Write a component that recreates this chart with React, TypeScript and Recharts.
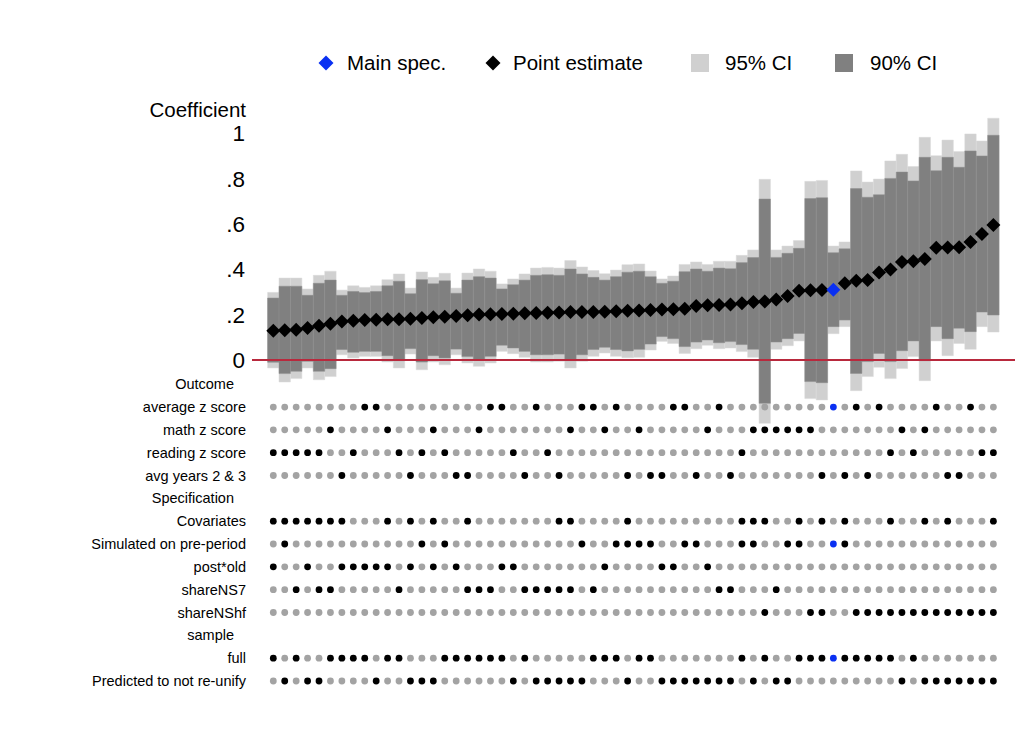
import React from "react";
import { ComposedChart, Bar, Scatter, XAxis, YAxis, ReferenceLine, Legend } from "recharts";

const FONT = "'Liberation Sans', Arial, Helvetica, sans-serif";

// point estimate of each specification, sorted
const estimates = [
  0.129, 0.131, 0.133, 0.141, 0.151, 0.16, 0.17, 0.173, 0.176, 0.177, 0.179, 0.18, 0.182, 0.185, 0.188, 0.191,
  0.194, 0.197, 0.2, 0.201, 0.203, 0.204, 0.206, 0.207, 0.208, 0.209, 0.211, 0.212, 0.212, 0.213, 0.215, 0.217,
  0.218, 0.22, 0.222, 0.224, 0.226, 0.238, 0.241, 0.242, 0.244, 0.25, 0.256, 0.258, 0.267, 0.282, 0.305, 0.307,
  0.308, 0.309, 0.338, 0.349, 0.352, 0.385, 0.399, 0.432, 0.435, 0.445, 0.495, 0.496, 0.497, 0.52, 0.555, 0.595,
];
const ci95Low = [
  -0.035, -0.097, -0.082, -0.035, -0.087, -0.073, 0.023, 0.009, 0.016, 0.016, -0.009, -0.035, 0.026, -0.043, -0.009, -0.021,
  0.023, -0.013, -0.028, -0.013, 0.038, 0.028, 0.012, -0.009, -0.009, -0.006, -0.035, -0.006, 0.016, 0.031, 0.016, 0.01,
  0.012, 0.044, 0.082, 0.073, 0.029, 0.05, 0.065, 0.05, 0.053, 0.037, 0.012, -0.279, 0.047, 0.063, 0.084, -0.17,
  -0.176, 0.116, 0.147, -0.135, -0.073, -0.032, -0.082, -0.037, 0.015, -0.091, 0.084, 0.019, 0.073, 0.047, 0.147, 0.123,
];
const ci90Low = [
  -0.01, -0.06, -0.05, -0.006, -0.05, -0.038, 0.046, 0.034, 0.038, 0.038, 0.019, -0.003, 0.05, -0.009, 0.019, 0.009,
  0.048, 0.015, 0.001, 0.016, 0.065, 0.053, 0.038, 0.023, 0.023, 0.026, -0.003, 0.023, 0.046, 0.056, 0.046, 0.04,
  0.047, 0.07, 0.103, 0.094, 0.059, 0.079, 0.088, 0.076, 0.081, 0.068, 0.047, -0.191, 0.079, 0.094, 0.117, -0.095,
  -0.1, 0.147, 0.176, -0.059, -0.007, 0.029, -0.007, 0.041, 0.084, -0.003, 0.147, 0.094, 0.14, 0.125, 0.211, 0.198,
];
const ci90High = [
  0.273, 0.325, 0.325, 0.285, 0.338, 0.352, 0.285, 0.302, 0.297, 0.302, 0.327, 0.347, 0.292, 0.354, 0.336, 0.349,
  0.294, 0.352, 0.367, 0.361, 0.313, 0.332, 0.352, 0.373, 0.376, 0.373, 0.401, 0.379, 0.364, 0.352, 0.367, 0.387,
  0.391, 0.367, 0.338, 0.347, 0.389, 0.401, 0.391, 0.405, 0.402, 0.429, 0.451, 0.709, 0.452, 0.47, 0.492, 0.711,
  0.715, 0.473, 0.49, 0.755, 0.717, 0.728, 0.8, 0.828, 0.789, 0.893, 0.834, 0.893, 0.849, 0.921, 0.899, 0.99,
];
const ci95High = [
  0.298, 0.361, 0.361, 0.313, 0.373, 0.391, 0.308, 0.327, 0.32, 0.327, 0.354, 0.379, 0.317, 0.388, 0.364, 0.382,
  0.317, 0.383, 0.401, 0.391, 0.335, 0.357, 0.379, 0.405, 0.408, 0.405, 0.438, 0.41, 0.394, 0.38, 0.396, 0.42,
  0.423, 0.392, 0.357, 0.37, 0.421, 0.432, 0.421, 0.435, 0.435, 0.461, 0.485, 0.796, 0.485, 0.502, 0.526, 0.787,
  0.791, 0.502, 0.52, 0.833, 0.784, 0.797, 0.877, 0.906, 0.852, 0.981, 0.9, 0.969, 0.918, 0.996, 0.965, 1.065,
];

// 0 = average z score, 1 = math z score, 2 = reading z score, 3 = avg years 2 & 3
const outcome = [
  2, 2, 2, 2, 2, 1, 3, 2, 0, 0, 1, 2, 3, 2, 1, 2, 3, 3, 1, 0, 0, 2, 3, 0, 2, 3, 1, 0, 0, 1, 0, 3,
  1, 3, 3, 0, 0, 3, 1, 0, 3, 2, 1, 1, 1, 1, 1, 1, 3, 0, 3, 0, 3, 0, 2, 1, 2, 1, 0, 3, 3, 0, 2, 2,
];
const covariates = [
  1, 1, 1, 1, 1, 1, 1, 0, 0, 0, 1, 0, 1, 0, 1, 0, 0, 1, 0, 0, 0, 0, 0, 0, 0, 1, 1, 0, 0, 0, 0, 1,
  0, 0, 0, 0, 0, 0, 0, 0, 0, 1, 1, 1, 0, 0, 1, 0, 1, 0, 1, 0, 0, 0, 1, 0, 0, 1, 0, 1, 0, 0, 0, 1,
];
const simulatedPre = [
  0, 1, 0, 0, 0, 0, 0, 0, 0, 0, 0, 0, 0, 1, 0, 1, 0, 0, 0, 0, 0, 0, 0, 0, 0, 0, 0, 1, 0, 0, 1, 1,
  1, 1, 0, 0, 1, 1, 0, 0, 0, 1, 1, 0, 0, 1, 1, 0, 0, 1, 1, 0, 0, 0, 0, 0, 0, 0, 0, 0, 0, 0, 0, 0,
];
const postOld = [
  1, 0, 0, 1, 0, 0, 1, 1, 1, 1, 1, 0, 1, 0, 1, 0, 1, 0, 0, 0, 1, 1, 0, 0, 0, 0, 0, 0, 0, 1, 0, 0,
  0, 0, 1, 1, 0, 0, 1, 0, 0, 0, 0, 0, 0, 0, 0, 0, 0, 0, 0, 0, 0, 0, 0, 0, 0, 0, 0, 0, 0, 0, 0, 0,
];
const shareNS7 = [
  0, 0, 1, 0, 1, 1, 0, 0, 0, 0, 0, 1, 0, 0, 0, 0, 0, 1, 1, 1, 0, 0, 1, 1, 1, 1, 1, 0, 1, 0, 0, 0,
  0, 0, 0, 0, 0, 0, 0, 1, 1, 0, 0, 0, 1, 0, 0, 0, 0, 0, 0, 0, 0, 0, 0, 0, 0, 0, 0, 0, 0, 0, 0, 0,
];
const shareNShf = [
  0, 0, 0, 0, 0, 0, 0, 0, 0, 0, 0, 0, 0, 0, 0, 0, 0, 0, 0, 0, 0, 0, 0, 0, 0, 0, 0, 0, 0, 0, 0, 0,
  0, 0, 0, 0, 0, 0, 0, 0, 0, 0, 0, 1, 0, 0, 0, 1, 1, 0, 0, 1, 1, 1, 1, 1, 1, 1, 1, 1, 1, 1, 1, 1,
];
const fullSample = [
  1, 0, 1, 0, 0, 1, 1, 1, 1, 0, 1, 1, 0, 0, 0, 1, 1, 1, 1, 1, 1, 0, 1, 0, 0, 0, 0, 0, 1, 1, 1, 0,
  1, 1, 0, 0, 0, 0, 0, 0, 0, 1, 0, 1, 0, 0, 1, 1, 1, 1, 1, 1, 1, 1, 1, 0, 1, 0, 0, 0, 0, 0, 0, 0,
];
const mainSpec = 49;

const coefTicks = [0, 0.2, 0.4, 0.6, 0.8, 1];
const rowLabels = [
  "Outcome",
  "average z score",
  "math z score",
  "reading z score",
  "avg years 2 & 3",
  "Specification",
  "Covariates",
  "Simulated on pre-period",
  "post*old",
  "shareNS7",
  "shareNShf",
  "sample",
  "full",
  "Predicted to not re-unify",
];
const headerRows = [0, 5, 11];

const rowFlags: (number[] | null)[] = [
  null,
  outcome.map((o) => (o === 0 ? 1 : 0)),
  outcome.map((o) => (o === 1 ? 1 : 0)),
  outcome.map((o) => (o === 2 ? 1 : 0)),
  outcome.map((o) => (o === 3 ? 1 : 0)),
  null,
  covariates,
  simulatedPre,
  postOld,
  shareNS7,
  shareNShf,
  null,
  fullSample,
  fullSample.map((f) => 1 - f),
];

const data = estimates.map((est, i) => ({
  x: i,
  est,
  main: i === mainSpec,
  ci95: [ci95Low[i], ci95High[i]],
  ci90: [ci90Low[i], ci90High[i]],
}));

const grayDots: { x: number; y: number }[] = [];
const blackDots: { x: number; y: number }[] = [];
const blueDots: { x: number; y: number }[] = [];
rowFlags.forEach((flags, k) => {
  if (!flags) return;
  flags.forEach((f, i) => {
    const p = { x: i, y: -k };
    if (!f) grayDots.push(p);
    else if (i === mainSpec) blueDots.push(p);
    else blackDots.push(p);
  });
});

const BLUE = "#0a30f2";
const LIGHT = "#d0d0d0";
const DARK = "#808080";

// plot frame in pixels
const W = 1034;
const H = 755;
const TOP = 110;
const BOTTOM = 700;
const LEFT = 252;
const RIGHT = 1015;
const PX_PER_UNIT = 227; // coefficient axis
const ROW_STEP = 22.83;
const ROW0_Y = 384.2;
const ZERO_Y = 360;
const BAND = 11.43;
const FIRST_X = 273.3;

const coefMax = (ZERO_Y - TOP) / PX_PER_UNIT;
const coefMin = coefMax - (BOTTOM - TOP) / PX_PER_UNIT;
const rowMax = (ROW0_Y - TOP) / ROW_STEP;
const rowMin = rowMax - (BOTTOM - TOP) / ROW_STEP;
const xMin = -(FIRST_X - LEFT) / BAND;
const xMax = xMin + (RIGHT - LEFT) / BAND;
const xTicks = data.map((d) => d.x);

const fmtCoef = (v: number) => (v === 0 ? "0" : v === 1 ? "1" : String(v).replace("0.", "."));

const diamond = (cx: number, cy: number, r: number, fill: string) => (
  <polygon points={`${cx},${cy - r} ${cx + r},${cy} ${cx},${cy + r} ${cx - r},${cy}`} fill={fill} />
);

const EstShape = (props: any) => {
  const { cx, cy, payload } = props;
  return diamond(cx, cy, 7, payload.main ? BLUE : "#000");
};

const dotShape = (fill: string) => (props: any) => <circle cx={props.cx} cy={props.cy} r={3.4} fill={fill} />;

const RowTick = (props: any) => {
  const { y, payload } = props;
  const k = Math.round(-payload.value);
  const isHeader = headerRows.includes(k);
  return (
    <text
      x={isHeader ? LEFT - 18 : LEFT - 6}
      y={y}
      dy="0.35em"
      textAnchor="end"
      fontSize={14.5}
      fontFamily={FONT}
      fill="#000"
    >
      {rowLabels[k]}
    </text>
  );
};

const CoefTick = (props: any) => {
  const { y, payload } = props;
  return (
    <text x={LEFT - 7} y={y} dy="0.36em" textAnchor="end" fontSize={22.5} fontFamily={FONT} fill="#000">
      {fmtCoef(payload.value)}
    </text>
  );
};

const LegendBox = () => (
  <svg width={W} height={30} style={{ display: "block" }}>
    <g fontFamily={FONT} fontSize={20.5} fill="#000">
      {diamond(326, 15, 7.5, BLUE)}
      <text x={347} y={22}>Main spec.</text>
      {diamond(493, 15, 7.5, "#000")}
      <text x={513} y={22}>Point estimate</text>
      <rect x={691} y={6} width={18} height={18} fill={LIGHT} />
      <text x={725} y={22}>95% CI</text>
      <rect x={835} y={6} width={18} height={18} fill={DARK} />
      <text x={870} y={22}>90% CI</text>
    </g>
  </svg>
);

export default function App() {
  return (
    <div style={{ position: "absolute", left: 0, top: 0, width: W, height: H, background: "#fff" }}>
      <ComposedChart
        width={W}
        height={H}
        data={data}
        margin={{ top: TOP, bottom: H - BOTTOM, left: LEFT - 2, right: W - RIGHT }}
      >
        <XAxis xAxisId="a" dataKey="x" type="number" domain={[xMin, xMax]} ticks={xTicks} allowDataOverflow hide />
        <XAxis xAxisId="b" dataKey="x" type="number" domain={[xMin, xMax]} ticks={xTicks} allowDataOverflow hide />
        <YAxis
          yAxisId="coef"
          type="number"
          domain={[coefMin, coefMax]}
          allowDataOverflow
          ticks={coefTicks}
          interval={0}
          width={1}
          tickSize={0}
          axisLine={false}
          tickLine={false}
          tick={CoefTick}
          label={() => (
            <text x={LEFT - 6} y={TOP + 7} textAnchor="end" fontSize={20.5} fontFamily={FONT} fill="#000">
              Coefficient
            </text>
          )}
        />
        <YAxis
          yAxisId="rows"
          type="number"
          domain={[rowMin, rowMax]}
          allowDataOverflow
          ticks={rowLabels.map((_, k) => -k)}
          interval={0}
          width={1}
          tickSize={0}
          axisLine={false}
          tickLine={false}
          tick={RowTick}
        />
        <Legend
          layout="horizontal"
          verticalAlign="middle"
          align="center"
          wrapperStyle={{ top: 48, left: 0, width: W, height: 30 }}
          content={() => <LegendBox />}
        />
        <ReferenceLine xAxisId="a" yAxisId="coef" y={0} stroke="#b8293d" strokeWidth={2} />
        <Bar
          xAxisId="b"
          yAxisId="coef"
          dataKey="ci95"
          fill={LIGHT}
          stroke="#dadada"
          strokeWidth={0.5}
          barSize={11.4}
          isAnimationActive={false}
        />
        <Bar
          xAxisId="a"
          yAxisId="coef"
          dataKey="ci90"
          fill={DARK}
          stroke="#8e8e8e"
          strokeWidth={0.5}
          barSize={11.4}
          isAnimationActive={false}
        />
        <Scatter xAxisId="a" yAxisId="coef" dataKey="est" shape={EstShape} isAnimationActive={false} />
        <Scatter xAxisId="a" yAxisId="rows" data={grayDots} dataKey="y" shape={dotShape("#a3a3a3")} isAnimationActive={false} />
        <Scatter xAxisId="a" yAxisId="rows" data={blackDots} dataKey="y" shape={dotShape("#000")} isAnimationActive={false} />
        <Scatter xAxisId="a" yAxisId="rows" data={blueDots} dataKey="y" shape={dotShape(BLUE)} isAnimationActive={false} />
      </ComposedChart>
    </div>
  );
}
